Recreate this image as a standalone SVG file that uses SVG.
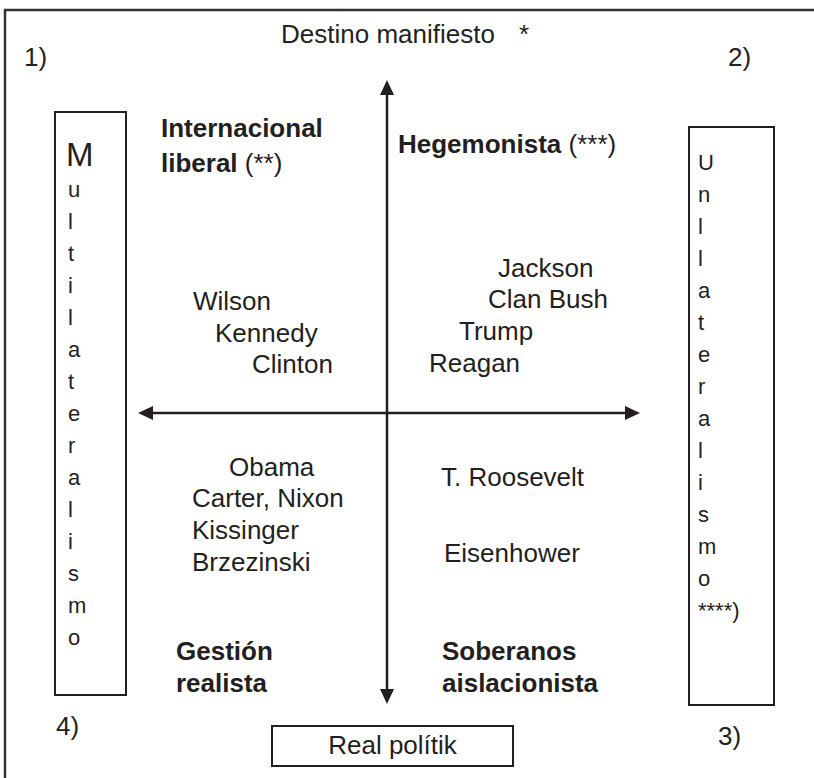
<svg xmlns="http://www.w3.org/2000/svg" width="814" height="778" viewBox="0 0 814 778">
<defs>
<style>
text{font-family:"Liberation Sans",Arial,sans-serif;fill:#231f20;font-size:26px}
.b{font-weight:bold}
.n{font-weight:normal}
.v{font-size:22px}
.box{fill:#fff;stroke:#231f20;stroke-width:2}
.ax{stroke:#231f20;stroke-width:2.5;fill:none}
.ah{fill:#231f20}
</style>
</defs>
<rect x="0" y="0" width="814" height="778" fill="#fff"/>
<rect x="5" y="10" width="830" height="800" fill="none" stroke="#333" stroke-width="2.5"/>

<g id="connectors">
<line class="ax" x1="387" y1="92" x2="387" y2="692"/>
<polygon class="ah" points="387,80 380,95 394,95"/>
<polygon class="ah" points="387,704 380,689 394,689"/>
<line class="ax" x1="150" y1="413" x2="628" y2="413"/>
<polygon class="ah" points="138,413 153,406 153,420"/>
<polygon class="ah" points="640,413 625,406 625,420"/>
</g>

<g id="title"><text x="281" y="43">Destino manifiesto</text><text x="519" y="43">*</text></g>
<g id="n1"><text x="24" y="66">1)</text></g>
<g id="n2"><text x="728" y="66">2)</text></g>
<g id="n3"><text x="718" y="745">3)</text></g>
<g id="n4"><text x="56" y="735">4)</text></g>

<g id="multilateralismo">
<rect class="box" x="55" y="112" width="71" height="583"/>
<text x="66" y="166" style="font-size:33px">M</text>
<text class="v" x="68" y="197">u</text>
<text class="v" x="68" y="229">l</text>
<text class="v" x="68" y="261">t</text>
<text class="v" x="68" y="293">i</text>
<text class="v" x="68" y="325">l</text>
<text class="v" x="68" y="357">a</text>
<text class="v" x="68" y="389">t</text>
<text class="v" x="68" y="421">e</text>
<text class="v" x="68" y="453">r</text>
<text class="v" x="68" y="485">a</text>
<text class="v" x="68" y="517">l</text>
<text class="v" x="68" y="549">i</text>
<text class="v" x="68" y="581">s</text>
<text class="v" x="68" y="613">m</text>
<text class="v" x="68" y="645">o</text>
</g>

<g id="unilateralismo">
<rect class="box" x="689" y="127" width="85" height="578"/>
<text class="v" x="698" y="170">U</text>
<text class="v" x="698" y="202">n</text>
<text class="v" x="698" y="234">l</text>
<text class="v" x="698" y="266">l</text>
<text class="v" x="698" y="298">a</text>
<text class="v" x="698" y="330">t</text>
<text class="v" x="698" y="362">e</text>
<text class="v" x="698" y="394">r</text>
<text class="v" x="698" y="426">a</text>
<text class="v" x="698" y="458">l</text>
<text class="v" x="698" y="490">i</text>
<text class="v" x="698" y="522">s</text>
<text class="v" x="698" y="554">m</text>
<text class="v" x="698" y="586">o</text>
<text class="v" x="698" y="618">****)</text>
</g>

<g id="internacional-liberal">
<text class="b" x="161" y="137">Internacional</text>
<text class="b" x="161" y="172">liberal <tspan class="n">(**)</tspan></text>
</g>
<g id="hegemonista">
<text class="b" x="398" y="153">Hegemonista <tspan class="n">(***)</tspan></text>
</g>
<g id="gestion-realista">
<text class="b" x="176" y="660">Gestión</text>
<text class="b" x="176" y="692">realista</text>
</g>
<g id="soberanos">
<text class="b" x="442" y="660">Soberanos</text>
<text class="b" x="442" y="692">aislacionista</text>
</g>

<g id="q1">
<text x="193" y="310">Wilson</text>
<text x="215" y="342">Kennedy</text>
<text x="252" y="373">Clinton</text>
</g>
<g id="q2">
<text x="498" y="277">Jackson</text>
<text x="488" y="308">Clan Bush</text>
<text x="459" y="340">Trump</text>
<text x="429" y="372">Reagan</text>
</g>
<g id="q3">
<text x="229" y="476">Obama</text>
<text x="192" y="507">Carter, Nixon</text>
<text x="192" y="539">Kissinger</text>
<text x="192" y="571">Brzezinski</text>
</g>
<g id="q4">
<text x="441" y="486">T. Roosevelt</text>
<text x="444" y="562">Eisenhower</text>
</g>

<g id="real-politik">
<rect class="box" x="272" y="726" width="241" height="40"/>
<text x="392.5" y="754" text-anchor="middle">Real polítik</text>
</g>
</svg>
